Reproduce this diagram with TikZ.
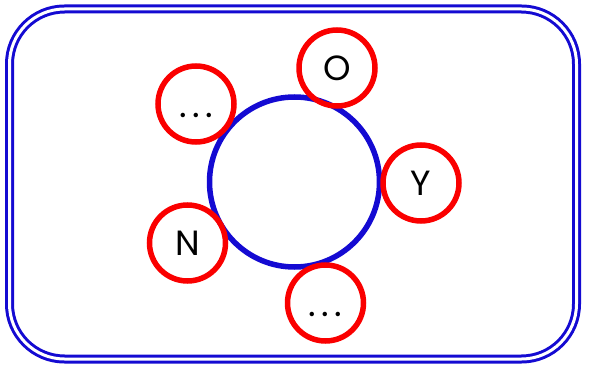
\documentclass[tikz,border=0pt]{standalone}
\usepackage{fontspec}
\setmainfont{Poppins}
\definecolor{myblue}{RGB}{20,10,210}
\definecolor{myred}{RGB}{250,0,0}
\newcommand{\mydots}{\vphantom{O}\raisebox{-3pt}{\fontsize{36}{36}\selectfont.\kern5.5pt.\kern5.5pt.}}
\begin{document}
\begin{tikzpicture}[x=1pt,y=1pt,
  small/.style={circle,draw=myred,line width=5.5pt,minimum size=76pt,inner sep=0pt,font=\fontsize{35}{35}\selectfont,text=black},
  big/.style={circle,draw=myblue,line width=5.5pt,minimum size=170pt,inner sep=0pt}]
\useasboundingbox (0,0) rectangle (591,367);
\draw[myblue,line width=3pt,double=white,double distance=3pt,rounded corners=55pt] (9.5,8) rectangle (576.5,358);
\node[big] (c) at (294.5,185) {};
\node[small] (d1) at (196,263) {\mydots};
\node[small] (o) at (337,299) {O};
\node[small] (y) at (421,184) {Y};
\node[small] (n) at (187.5,124) {N};
\node[small] (d2) at (325.5,64) {\mydots};
\end{tikzpicture}
\end{document}
